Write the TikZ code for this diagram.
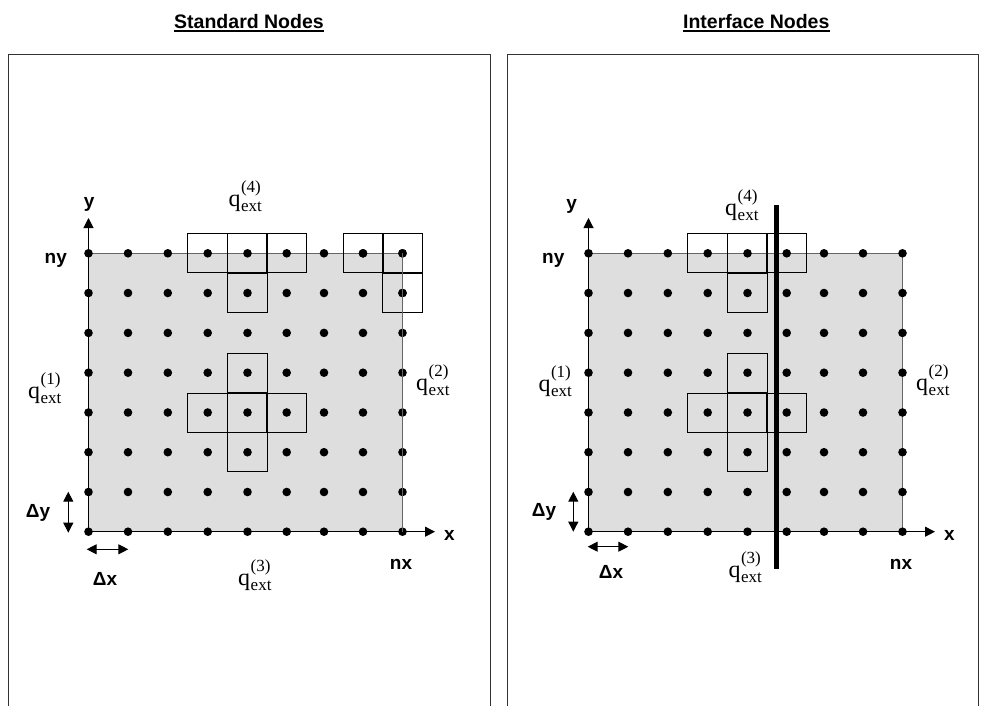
\documentclass[tikz,border=0pt]{standalone}
\usepackage{fontspec}
\setmainfont{Liberation Serif}
\setsansfont{Liberation Sans}
\usetikzlibrary{arrows.meta}
\newcommand{\qlabel}[1]{{\fontsize{24}{24}\selectfont q}\kern0.5pt\rlap{\raisebox{14pt}{\fontsize{17}{17}\selectfont(#1)}}\raisebox{-5pt}{\fontsize{17}{17}\selectfont ext}}
\tikzset{
  dot/.style={circle,fill=black,inner sep=0pt,minimum size=8.6pt},
  cell/.style={draw=black,line width=0.9pt,minimum width=40pt,minimum height=39pt,inner sep=0pt},
  axis/.style={line width=1pt,-{Triangle[length=10pt,width=10pt]}},
  dimarrow/.style={line width=1pt,{Triangle[length=10pt,width=10pt]}-{Triangle[length=10pt,width=10pt]}},
  lbl/.style={font=\fontsize{19}{19}\selectfont\sffamily\bfseries,inner sep=0pt,anchor=base},
  ttl/.style={font=\fontsize{19.5}{19.5}\selectfont\sffamily\bfseries,inner sep=0pt,anchor=base},
  qlab/.style={inner sep=0pt,anchor=base west},
  panel/.style={line width=0.9pt,draw=black!80},
  region/.style={fill=black!13},
  rim/.style={line width=1pt,draw=black!60},
}
\begin{document}
\begin{tikzpicture}[x=1pt,y=-1pt]
\useasboundingbox (0,0) rectangle (981,706);
% titles
\node[ttl] (t1) at (249,28.3) {Standard Nodes};
\draw[line width=2pt] ([yshift=-3pt]t1.base west) -- ([yshift=-3pt]t1.base east);
\node[ttl] (t2) at (756.3,28.3) {Interface Nodes};
\draw[line width=2pt] ([yshift=-3pt]t2.base west) -- ([yshift=-3pt]t2.base east);
% panel frames
\coordinate (pL1) at (8.5,706); \coordinate (pL2) at (8.5,54.3);
\coordinate (pL3) at (490.5,54.3); \coordinate (pL4) at (490.5,706);
\draw[panel] (pL1) -- (pL2) -- (pL3) -- (pL4);
\coordinate (pR1) at (507,706); \coordinate (pR2) at (507,54.3);
\coordinate (pR3) at (978.5,54.3); \coordinate (pR4) at (978.5,706);
\draw[panel] (pR1) -- (pR2) -- (pR3) -- (pR4);

\foreach \p/\dx in {L/0,R/500}{
 \begin{scope}[xshift=\dx pt]
  \foreach \xx [count=\i from 0] in {88.5,128,167.8,207.7,247.5,286.7,324,363,402.5}{
    \foreach \yy [count=\j from 0] in {531.7,492,452.2,412.5,372.7,332.9,293,253.3}{
      \coordinate (\p-\i-\j) at (\xx,\yy);
    }
  }
  \fill[region] (\p-0-0) rectangle (\p-8-7);
  \draw[rim] (\p-0-7) -- (\p-8-7) -- (\p-8-0);
  % cross stencil
  \node[cell] (\p-cc) at (\p-4-3) {};
  \node[cell] (\p-cl) at (\p-3-3) {};
  \node[cell] (\p-cr) at (\p-5-3) {};
  \node[cell] (\p-cu) at (\p-4-4) {};
  \node[cell] (\p-cd) at (\p-4-2) {};
  % top stencil
  \node[cell] (\p-tl) at (\p-3-7) {};
  \node[cell] (\p-tc) at (\p-4-7) {};
  \node[cell] (\p-tr) at (\p-5-7) {};
  \node[cell] (\p-td) at (\p-4-6) {};
  % axes
  \coordinate (\p-ytip) at (88.5,218);
  \coordinate (\p-xtip) at (435,531.7);
  \draw[axis] (\p-0-0) -- (\p-ytip);
  \draw[axis] (\p-0-0) -- (\p-xtip);
  % dots
  \foreach \i in {0,...,8}{
    \foreach \j in {0,...,7}{
      \node[dot] (\p-d-\i-\j) at (\p-\i-\j) {};
    }
  }
  \node[lbl] (\p-xlab) at (449.3,540) {x};
  \node[lbl] (\p-nx) at (401,569.3) {nx};
  \node[qlab] (\p-q2) at (416,390) {\qlabel{2}};
 \end{scope}
}
% top-right corner stencil (left panel only)
\node[cell] (L-kl) at (L-7-7) {};
\node[cell] (L-kc) at (L-8-7) {};
\node[cell] (L-kd) at (L-8-6) {};
\node[dot] at (L-7-7) {};
\node[dot] at (L-8-7) {};
\node[dot] at (L-8-6) {};
\draw[rim] (L-8-7) -- (L-8-0);
% left panel labels
\coordinate (L-dy1) at (68.3,491.7); \coordinate (L-dy2) at (68.3,532.7);
\draw[dimarrow] (L-dy1) -- (L-dy2);
\coordinate (L-dx1) at (86.7,549.3); \coordinate (L-dx2) at (128.3,549.3);
\draw[dimarrow] (L-dx1) -- (L-dx2);
\node[lbl] (L-ylab) at (89.2,207.3) {y};
\node[lbl] (L-ny) at (55.8,263.3) {ny};
\node[lbl] (L-dyl) at (38,517.3) {Δy};
\node[lbl] (L-dxl) at (105,585) {Δx};
\node[qlab] (L-q1) at (28,398) {\qlabel{1}};
% right panel labels
\coordinate (R-dy1) at (573.3,491.7); \coordinate (R-dy2) at (573.3,531.7);
\draw[dimarrow] (R-dy1) -- (R-dy2);
\coordinate (R-dx1) at (587.7,546.7); \coordinate (R-dx2) at (628.3,546.7);
\draw[dimarrow] (R-dx1) -- (R-dx2);
\node[lbl] (R-ylab) at (571.7,209) {y};
\node[lbl] (R-ny) at (553.3,263) {ny};
\node[lbl] (R-dyl) at (544,516.7) {Δy};
\node[lbl] (R-dxl) at (611,578.3) {Δx};
\node[qlab] (R-q1) at (538.3,391) {\qlabel{1}};
% q labels top/bottom
\node[qlab] (L-q4) at (228.3,206) {\qlabel{4}};
\node[qlab] (L-q3) at (238,585) {\qlabel{3}};
\node[qlab] (R-q4) at (725,215) {\qlabel{4}};
\node[qlab] (R-q3) at (728.3,577) {\qlabel{3}};
% interface line
\coordinate (iftop) at (776.7,205);
\coordinate (ifbot) at (776.7,569);
\draw[line width=5pt] (iftop) -- (ifbot);
\end{tikzpicture}
\end{document}
